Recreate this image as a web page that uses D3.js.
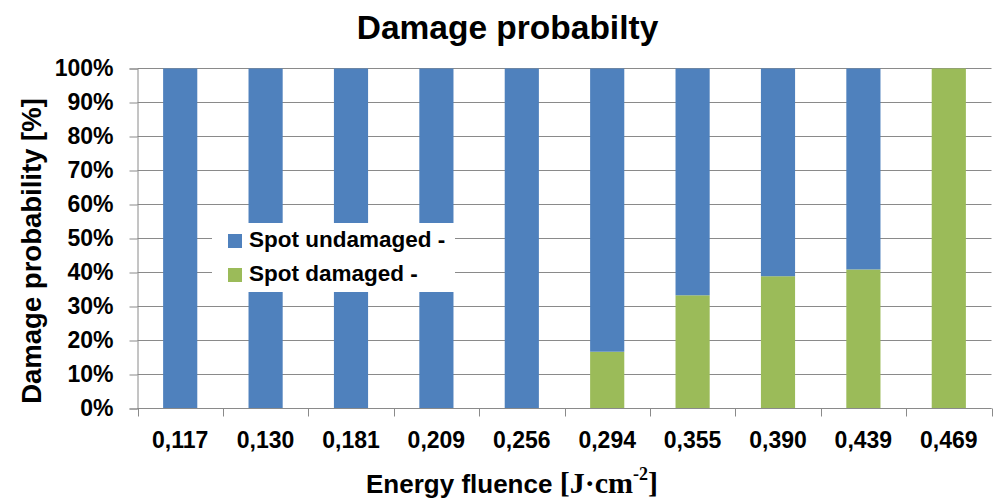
<!DOCTYPE html>
<html>
<head>
<meta charset="utf-8">
<script src="https://cdn.jsdelivr.net/npm/d3@7"></script>
<style>
  html, body { margin: 0; padding: 0; background: #fff; }
  svg { display: block; }
  text { font-family: "Liberation Sans", Arial, sans-serif; font-weight: bold; fill: #000; }
</style>
</head>
<body>
<svg id="chart" width="996" height="501"></svg>
<script>
const categories = ["0,117", "0,130", "0,181", "0,209", "0,256", "0,294", "0,355", "0,390", "0,439", "0,469"];
const damaged = [0, 0, 0, 0, 0, 16.7, 33.3, 38.9, 40.9, 100];
const undamaged = damaged.map(v => 100 - v);
const seriesNames = ["Spot undamaged -", "Spot damaged -"];
const yTicks = [0, 10, 20, 30, 40, 50, 60, 70, 80, 90, 100];
const chartTitle = "Damage probabilty";
const yTitle = "Damage probability [%]";

const colors = { undamaged: "#4F81BD", damaged: "#9BBB59" };
const W = 996, H = 501;
const plot = { left: 137.5, right: 991.5, top: 68.5, bottom: 408.5 };

const svg = d3.select("#chart");

const x = d3.scaleBand().domain(categories).range([plot.left, plot.right])
  .paddingInner(0.6).paddingOuter(0.3);
const y = d3.scaleLinear().domain([0, 100]).range([plot.bottom, plot.top]);

// gridlines
svg.append("g").selectAll("line").data(yTicks).join("line")
  .attr("x1", plot.left).attr("x2", plot.right)
  .attr("y1", d => y(d)).attr("y2", d => y(d))
  .attr("stroke", "#8a8a8a").attr("stroke-width", 1);

// stacked bars
const rows = categories.map((c, i) => ({ cat: c, damaged: damaged[i], undamaged: undamaged[i] }));
const stack = d3.stack().keys(["damaged", "undamaged"])(rows);
svg.append("g").selectAll("g").data(stack).join("g")
  .attr("fill", d => colors[d.key])
  .selectAll("rect").data(d => d.filter(p => p[1] - p[0] > 0)).join("rect")
  .attr("x", d => x(d.data.cat))
  .attr("width", x.bandwidth())
  .attr("y", d => y(d[1]))
  .attr("height", d => y(d[0]) - y(d[1]));

// y axis
const yAxis = d3.axisLeft(y).tickValues(yTicks).tickFormat(d => d + "%").tickSize(8).tickPadding(16);
const gy = svg.append("g").attr("transform", `translate(${plot.left},0)`).call(yAxis);
gy.select(".domain").attr("stroke", "#8a8a8a");
gy.selectAll(".tick line").attr("stroke", "#8a8a8a");
gy.selectAll(".tick text").style("font-size", "23px").attr("fill", "#000");

// x axis: baseline + boundary ticks
const step = x.step();
const bounds = d3.range(categories.length + 1).map(i => plot.left + i * step);
svg.append("line").attr("x1", plot.left).attr("x2", plot.right)
  .attr("y1", plot.bottom).attr("y2", plot.bottom).attr("stroke", "#8a8a8a");
svg.append("g").selectAll("line").data(bounds).join("line")
  .attr("x1", d => Math.round(d) + 0.5).attr("x2", d => Math.round(d) + 0.5)
  .attr("y1", plot.bottom).attr("y2", plot.bottom + 8).attr("stroke", "#8a8a8a");
svg.append("g").selectAll("text").data(categories).join("text")
  .attr("x", d => x(d) + x.bandwidth() / 2)
  .attr("y", 448)
  .attr("text-anchor", "middle")
  .style("font-size", "23px")
  .text(d => d);

// title
svg.append("text").attr("x", 507.5).attr("y", 39).attr("text-anchor", "middle")
  .style("font-size", "33.5px").text(chartTitle);

// y title
svg.append("text").attr("transform", "translate(41,251) rotate(-90)")
  .attr("text-anchor", "middle").style("font-size", "27.5px").text(yTitle);

// x title
const xt = svg.append("text").attr("x", 512).attr("y", 493).attr("text-anchor", "middle");
xt.append("tspan").style("font-size", "26px").text("Energy fluence ");
xt.append("tspan").style("font-family", "'Liberation Serif', 'Times New Roman', serif")
  .style("font-size", "30px").text("[J\u00B7cm");
xt.append("tspan").style("font-family", "'Liberation Serif', 'Times New Roman', serif")
  .style("font-size", "18px").attr("dy", -13).text("-2");
xt.append("tspan").style("font-family", "'Liberation Serif', 'Times New Roman', serif")
  .style("font-size", "30px").attr("dy", 13).text("]");

// legend
const lg = svg.append("g");
lg.append("rect").attr("x", 212).attr("y", 223).attr("width", 243).attr("height", 69).attr("fill", "#fff");
const legendItems = [
  { name: seriesNames[0], color: colors.undamaged },
  { name: seriesNames[1], color: colors.damaged }
];
const li = lg.selectAll("g.item").data(legendItems).join("g").attr("class", "item")
  .attr("transform", (d, i) => `translate(228,${234 + i * 34})`);
li.append("rect").attr("width", 14).attr("height", 14).attr("fill", d => d.color);
li.append("text").attr("x", 21).attr("y", 13).style("font-size", "22.5px").text(d => d.name);
</script>
</body>
</html>
